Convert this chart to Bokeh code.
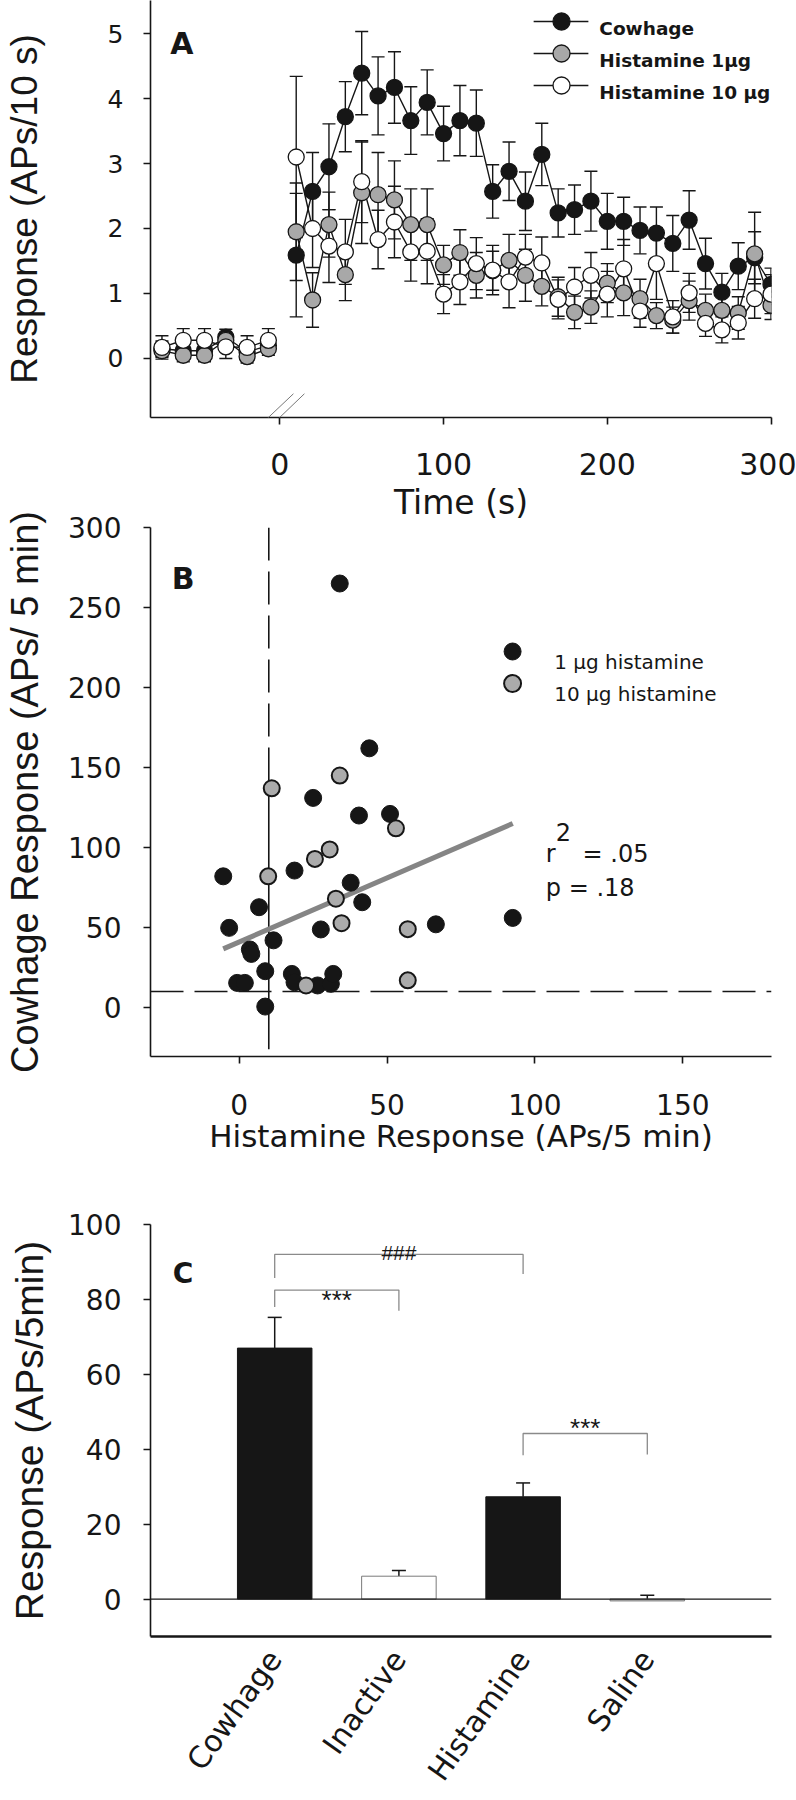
from bokeh.plotting import figure
from bokeh.models import (ColumnDataSource, Range1d, FixedTicker, Whisker, TeeHead, Label, Span, Arrow)
from bokeh.layouts import column
from bokeh.embed import file_html
from bokeh.resources import INLINE
from bokeh.core.properties import value

# ---------------- Panel A data (APs / 10 s) ----------------
pre_time = [-72, -59, -46, -33, -20, -7]
post_time = [10, 20, 30, 40, 50, 60, 70, 80, 90, 100, 110, 120, 130, 140, 150,
             160, 170, 180, 190, 200, 210, 220, 230, 240, 250, 260, 270, 280, 290, 300]

cow_pre = [0.15, 0.12, 0.12, 0.33, 0.10, 0.20]
cow_pre_err = [0.12, 0.12, 0.12, 0.12, 0.12, 0.12]
cow_post = [1.59, 2.57, 2.95, 3.72, 4.39, 4.04, 4.17, 3.66, 3.94, 3.46, 3.66, 3.62, 2.57, 2.88, 2.42,
            3.14, 2.24, 2.29, 2.42, 2.11, 2.11, 1.97, 1.93, 1.77, 2.13, 1.46, 1.02, 1.42, 1.55, 1.14]
cow_post_err = [0.95, 0.60, 0.66, 0.54, 0.64, 0.60, 0.55, 0.52, 0.50, 0.42, 0.54, 0.51, 0.41, 0.45, 0.45,
                0.48, 0.37, 0.38, 0.46, 0.43, 0.37, 0.36, 0.40, 0.43, 0.45, 0.39, 0.29, 0.36, 0.40, 0.25]

h1_pre = [0.12, 0.05, 0.05, 0.28, 0.03, 0.15]
h1_pre_err = [0.10, 0.10, 0.10, 0.10, 0.10, 0.10]
h1_post = [1.95, 0.90, 2.06, 1.29, 2.55, 2.52, 2.44, 2.06, 2.06, 1.44, 1.63, 1.28, 1.35, 1.51, 1.28,
           1.11, 0.95, 0.71, 0.79, 1.16, 1.01, 0.92, 0.66, 0.59, 0.89, 0.74, 0.74, 0.70, 1.61, 0.82]
h1_post_err = [0.75, 0.42, 0.50, 0.40, 0.78, 0.65, 0.60, 0.55, 0.55, 0.30, 0.35, 0.35, 0.30, 0.40, 0.40,
               0.30, 0.30, 0.25, 0.25, 0.30, 0.35, 0.30, 0.20, 0.20, 0.30, 0.25, 0.22, 0.25, 0.64, 0.22]

h10_pre = [0.17, 0.28, 0.28, 0.18, 0.17, 0.28]
h10_pre_err = [0.18, 0.18, 0.18, 0.18, 0.18, 0.18]
h10_post = [3.10, 2.00, 1.73, 1.64, 2.72, 1.83, 2.10, 1.64, 1.65, 0.99, 1.18, 1.46, 1.36, 1.18, 1.56,
            1.47, 0.91, 1.10, 1.28, 0.99, 1.38, 0.73, 1.46, 0.64, 1.01, 0.54, 0.44, 0.55, 0.92, 0.99]
h10_post_err = [1.24, 0.60, 0.56, 0.50, 0.63, 0.45, 0.55, 0.45, 0.50, 0.30, 0.35, 0.40, 0.38, 0.40, 0.35,
                0.40, 0.30, 0.30, 0.35, 0.35, 0.45, 0.25, 0.55, 0.25, 0.30, 0.20, 0.20, 0.25, 0.30, 0.30]

series_names = ["Cowhage", "Histamine 1\u00b5g", "Histamine 10 \u00b5g"]

# ---------------- Panel B data (APs / 5 min) ----------------
hist1_x = [34, 44, 25, 40.5, 51, -5.4, 18.7, 6.7, 37.7, 41.6, -3.4, 27.6, 66.5, 92.5, 11.6,
           3.6, 4.1, 8.8, -0.7, 1.9, 17.8, 18.7, 26.5, 31, 31.8, 8.8]
hist1_y = [265, 162, 131, 120, 121, 82, 85.6, 62.7, 78, 65.8, 49.8, 48.8, 52, 56, 42,
           36.3, 33.5, 22.7, 15.4, 15.4, 21, 15.8, 13.8, 14.8, 21, 0.6]
hist10_x = [34, 11, 53, 30.6, 25.6, 9.8, 32.7, 34.6, 57, 22.6, 57]
hist10_y = [145, 137, 112, 98.8, 92.9, 82, 68, 52.7, 49, 13.8, 17]
legendB_names = ["1 \u00b5g histamine", "10 \u00b5g histamine"]
threshold = 10
fit_slope = 0.80
fit_intercept = 41.0
r2_text = ".05"
p_text = ".18"

# ---------------- Panel C data (APs / 5 min) ----------------
cats = ["Cowhage", "Inactive", "Histamine", "Saline"]
bar_mean = [67.0, 6.1, 27.3, -0.5]
bar_sem = [8.2, 1.5, 3.7, 1.5]
cmp_left = ["Cowhage", "Cowhage", "Histamine"]
cmp_right = ["Histamine", "Inactive", "Saline"]
cmp_height = [92.0, 82.5, 44.2]
cmp_foot_left = [85.7, 78.0, 38.4]
cmp_foot_right = [86.8, 77.0, 38.6]
cmp_label = ["###", "***", "***"]

# ---------------- styling ----------------
INK = "#161616"
WIDE = "DejaVu Sans"
ARIAL = "Liberation Sans"
W = 796


def base_fig(height, xr, yr, top, bottom, left, right, **kw):
    p = figure(width=W, height=height, x_range=Range1d(*xr), y_range=Range1d(*yr),
               output_backend="svg", toolbar_location=None,
               min_border_left=left, min_border_right=right,
               min_border_top=top, min_border_bottom=bottom, **kw)
    p.outline_line_color = None
    p.grid.visible = False
    p.border_fill_color = None
    p.background_fill_color = None
    for ax in p.axis:
        ax.axis_line_color = INK
        ax.axis_line_width = 1.6
        ax.major_tick_line_color = INK
        ax.major_tick_line_width = 1.6
        ax.major_tick_out = 7
        ax.major_tick_in = 0
        ax.minor_tick_line_color = None
        ax.major_label_text_color = INK
        ax.major_label_text_font = WIDE
        ax.axis_label_text_color = INK
        ax.axis_label_text_font_style = "normal"
    return p


def px2data(px, py, frame, xr, yr):
    fl, ft, fw, fh = frame
    return (xr[0] + (px - fl) * (xr[1] - xr[0]) / fw,
            yr[1] - (py - ft) * (yr[1] - yr[0]) / fh)


# ================= Panel A =================
A_frame = (147, 0, 624, 417)
A_xr, A_yr = (-79, 300.3), (-0.908, 5.508)
pA = base_fig(538, A_xr, A_yr, 0, 121, 147, W - 147 - 624)
pA.xaxis.ticker = FixedTicker(ticks=[0, 100, 200, 300])
pA.yaxis.ticker = FixedTicker(ticks=[0, 1, 2, 3, 4, 5])
pA.xaxis.major_label_text_font_size = "30px"
pA.xaxis.major_label_standoff = 28
pA.yaxis.major_label_text_font_size = "25px"
pA.yaxis.major_label_standoff = 20
pA.xaxis.axis_label = "Time (s)"
pA.xaxis.axis_label_text_font = WIDE
pA.xaxis.axis_label_text_font_size = "33px"
pA.xaxis.axis_label_standoff = 5
pA.yaxis.axis_label = "Response (APs/10 s)"
pA.yaxis.axis_label_text_font = ARIAL
pA.yaxis.axis_label_text_font_size = "37px"
pA.yaxis.axis_label_standoff = 60

fills = [INK, "#a8a8a8", "white"]
groups = [
    (cow_pre, cow_pre_err, cow_post, cow_post_err),
    (h1_pre, h1_pre_err, h1_post, h1_post_err),
    (h10_pre, h10_pre_err, h10_post, h10_post_err),
]
sources = []
for (pre, pre_e, post, post_e) in groups:
    pair = []
    for xs, ys, es in ((pre_time, pre, pre_e), (post_time, post, post_e)):
        src = ColumnDataSource(dict(x=xs, y=ys,
                                    lo=[a - b for a, b in zip(ys, es)],
                                    hi=[a + b for a, b in zip(ys, es)]))
        pA.add_layout(Whisker(source=src, base="x", lower="lo", upper="hi", dimension="height",
                              line_color=INK, line_width=1.4,
                              upper_head=TeeHead(size=13, line_color=INK, line_width=1.4),
                              lower_head=TeeHead(size=13, line_color=INK, line_width=1.4)))
        pair.append(src)
    sources.append(pair)

for pair in sources:
    for s in pair:
        pA.line("x", "y", source=s, line_color=INK, line_width=1.4)
for pair, fc in zip(sources, fills):
    for s in pair:
        pA.scatter("x", "y", source=s, size=16, fill_color=fc, line_color=INK, line_width=1.3)

# legend of panel A (placed in pixel positions, converted to data space)
legA_rows = [21, 53, 85]
for name, fc, py in zip(series_names, fills, legA_rows):
    x0, yy = px2data(532, py, A_frame, A_xr, A_yr)
    x1, _ = px2data(587, py, A_frame, A_xr, A_yr)
    xm, _ = px2data(560, py, A_frame, A_xr, A_yr)
    xt, _ = px2data(598, py, A_frame, A_xr, A_yr)
    pA.line([x0, x1], [yy, yy], line_color=INK, line_width=1.4)
    pA.scatter([xm], [yy], size=17, fill_color=fc, line_color=INK, line_width=1.3)
    pA.text(x=[xt], y=[yy], text=[name], text_baseline="alphabetic", y_offset=7,
            text_font=value(WIDE), text_font_style="bold", text_font_size=value("18.5px"),
            text_color=INK)

pA.add_layout(Label(x=-66.9, y=4.846, text="A", text_font=WIDE, text_font_style="bold",
                    text_font_size="30px", text_color=INK, text_baseline="alphabetic"))
for xs0, xs1 in ((-22.5, 8.3), (-15.4, 15.0)):
    pA.add_layout(Arrow(end=None, start=None, x_start=xs0, y_start=-1.277, x_end=xs1, y_end=-0.543,
                        line_color="#777777", line_width=1))

# ================= Panel B =================
B_frame = (147, 527, 626, 529)
B_xr, B_yr = (-30, 180), (-30.6, 300)
pB = base_fig(661, B_xr, B_yr, 20, 112, 147, W - 147 - 626, margin=(-31, 0, 0, 0))
pB.xaxis.ticker = FixedTicker(ticks=[0, 50, 100, 150])
pB.yaxis.ticker = FixedTicker(ticks=[0, 50, 100, 150, 200, 250, 300])
pB.xaxis.major_label_text_font_size = "28px"
pB.xaxis.major_label_standoff = 30
pB.yaxis.major_label_text_font_size = "28px"
pB.yaxis.major_label_standoff = 22
pB.xaxis.axis_label = "Histamine Response (APs/5 min)"
pB.xaxis.axis_label_text_font = WIDE
pB.xaxis.axis_label_text_font_size = "31px"
pB.xaxis.axis_label_standoff = 0
pB.yaxis.axis_label = "Cowhage Response (APs/ 5 min)"
pB.yaxis.axis_label_text_font = ARIAL
pB.yaxis.axis_label_text_font_size = "38px"
pB.yaxis.axis_label_standoff = 19

pB.segment(x0=[B_xr[0]], y0=[threshold], x1=[B_xr[1]], y1=[threshold], line_color=INK,
           line_width=1.6, line_dash="33 11")
pB.segment(x0=[threshold], y0=[B_yr[1]], x1=[threshold], y1=[137], line_color=INK, line_width=1.6,
           line_dash="33 11")
pB.segment(x0=[threshold], y0=[137], x1=[threshold], y1=[-26], line_color=INK, line_width=1.6)

all_x = hist1_x + hist10_x
fx = [min(all_x), max(all_x)]
pB.line(fx, [fit_intercept + fit_slope * v for v in fx], line_color="#858585", line_width=5)

pB.scatter(hist1_x, hist1_y, size=17, fill_color=INK, line_color=INK, line_width=1)
pB.scatter(hist10_x, hist10_y, size=16, fill_color="#ababab", line_color=INK, line_width=2)

legB_rows = [651, 683]
for name, fc, lw, py in zip(legendB_names, [INK, "#ababab"], [1, 2], legB_rows):
    xm, yy = px2data(512, py, B_frame, B_xr, B_yr)
    xt, _ = px2data(554, py, B_frame, B_xr, B_yr)
    pB.scatter([xm], [yy], size=17, fill_color=fc, line_color=INK, line_width=lw)
    pB.text(x=[xt], y=[yy], text=[name], text_baseline="alphabetic", y_offset=10,
            text_font=value(WIDE), text_font_size=value("20px"), text_color=INK)

pB.add_layout(Label(x=-22.8, y=268, text="B", text_font=WIDE, text_font_style="bold",
                    text_font_size="30px", text_color=INK, text_baseline="alphabetic"))
txt = dict(text_font=WIDE, text_font_size="24px", text_color=INK, text_baseline="alphabetic")
pB.add_layout(Label(x=103.7, y=96.25, text="r", **txt))
pB.add_layout(Label(x=107.0, y=109.4, text="2", **txt))
pB.add_layout(Label(x=116.1, y=96.25, text="= " + r2_text, **txt))
pB.add_layout(Label(x=103.7, y=75.0, text="p = " + p_text, **txt))

# ================= Panel C =================
pC = base_fig(632, (0, 5), (-10, 100), 56, 161, 147, W - 147 - 627)
xpos = [i + 1 for i in range(len(cats))]
pos = dict(zip(cats, xpos))
pC.yaxis.ticker = FixedTicker(ticks=[0, 20, 40, 60, 80, 100])
pC.yaxis.major_label_text_font_size = "28px"
pC.yaxis.major_label_standoff = 22
pC.yaxis.axis_label = "Response (APs/5min)"
pC.yaxis.axis_label_text_font = ARIAL
pC.yaxis.axis_label_text_font_size = "39px"
pC.yaxis.axis_label_standoff = 14
pC.xaxis.ticker = FixedTicker(ticks=xpos)
pC.xaxis.major_label_overrides = {x: c for x, c in zip(xpos, cats)}
pC.xaxis.major_label_orientation = 0.95
pC.xaxis.major_label_text_font_size = "30px"
pC.xaxis.major_tick_line_color = None
pC.xaxis.major_tick_out = 0
pC.xaxis.major_label_standoff = 17
pC.xaxis.axis_line_width = 2.4

srcC = ColumnDataSource(dict(x=xpos, top=bar_mean,
                             hi=[m + s for m, s in zip(bar_mean, bar_sem)],
                             fill=[INK, "white", INK, "#cfcfcf"],
                             edge=[INK, "#7a7a7a", INK, "#7a7a7a"]))
pC.add_layout(Whisker(source=srcC, base="x", lower="top", upper="hi", dimension="height",
                      line_color=INK, line_width=1.5,
                      upper_head=TeeHead(size=14, line_color=INK, line_width=1.5), lower_head=None))
pC.vbar(x="x", top="top", bottom=0, width=0.6, source=srcC, fill_color="fill", line_color="edge",
        line_width=1)
pC.add_layout(Span(location=0, dimension="width", line_color=INK, line_width=1.3))

label_dy = [-2, 10, -5]
label_size = ["21px", "26px", "26px"]
for a, b, h, fa, fb, lab, dy, fs in zip(cmp_left, cmp_right, cmp_height, cmp_foot_left,
                                         cmp_foot_right, cmp_label, label_dy, label_size):
    xa, xb = pos[a], pos[b]
    pC.line([xa, xa, xb, xb], [fa, h, h, fb], line_color="#8a8a8a", line_width=1.3)
    pC.text(x=[(xa + xb) / 2], y=[h], text=[lab], y_offset=dy, text_align="center",
            text_baseline="alphabetic", text_font=value(ARIAL), text_font_size=value(fs),
            text_color=INK)

pC.add_layout(Label(x=0.18, y=87.0, text="C", text_font=WIDE, text_font_style="bold",
                    text_font_size="28px", text_color=INK, text_baseline="alphabetic"))

layout = column(pA, pB, pC, spacing=0)
with open("out.html", "w") as f:
    f.write(file_html(layout, INLINE))
